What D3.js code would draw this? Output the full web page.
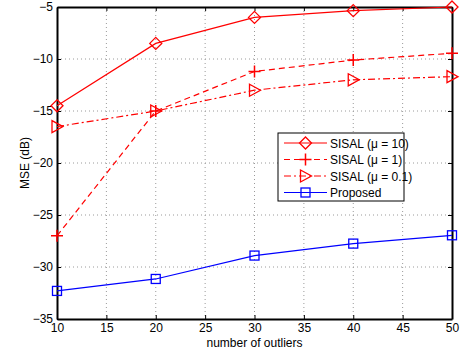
<!DOCTYPE html>
<html lang="en">
<head>
<meta charset="UTF-8">
<script src="https://d3js.org/d3.v7.min.js"></script>
<style>
  body { margin: 0; background: #fff; }
  svg { font-family: 'Liberation Sans', Arial, sans-serif; }
  .grid line { stroke: #9a9a9a; stroke-dasharray: 1,3; stroke-width: 1; }
</style>
</head>
<body>
<div id="chart"></div>
<script>
  // data
  const outliers = [10, 20, 30, 40, 50];
  const sisal10 = [-14.5, -8.5, -6.0, -5.35, -5.0];
  const sisal1 = [-27.0, -15.0, -11.2, -10.1, -9.45];
  const sisal01 = [-16.5, -15.0, -13.0, -12.0, -11.7];
  const proposed = [-32.3, -31.15, -28.9, -27.75, -26.95];
  const xTicks = [10, 15, 20, 25, 30, 35, 40, 45, 50];
  const yTicks = [-35, -30, -25, -20, -15, -10, -5];
  const legendLabels = ["SISAL (\u03bc = 10)", "SISAL (\u03bc = 1)", "SISAL (\u03bc = 0.1)", "Proposed"];

  const W = 464, H = 351;
  const margin = {top: 7, right: 12, bottom: 32, left: 57};
  const width = W - margin.left - margin.right,
        height = H - margin.top - margin.bottom;

  const svg = d3.select("#chart").append("svg")
      .attr("width", W).attr("height", H);
  const g = svg.append("g").attr("transform", `translate(${margin.left},${margin.top})`);

  const x = d3.scaleLinear().domain([10, 50]).range([0, width]);
  const y = d3.scaleLinear().domain([-35, -5]).range([height, 0]);

  // grid
  const grid = g.append("g").attr("class", "grid");
  grid.selectAll(".gx").data(xTicks.slice(1, -1)).join("line")
      .attr("x1", d => x(d)).attr("x2", d => x(d)).attr("y1", 0).attr("y2", height);
  grid.selectAll(".gy").data(yTicks.slice(1, -1)).join("line")
      .attr("class", "gy")
      .attr("y1", d => y(d)).attr("y2", d => y(d)).attr("x1", 0).attr("x2", width);

  // axes, MATLAB style: ticks inside on all four sides
  const tickLen = 4;
  const axB = g.append("g").attr("transform", `translate(0,${height})`)
      .call(d3.axisBottom(x).tickValues(xTicks).tickSize(-tickLen).tickPadding(4).tickSizeOuter(0));
  const axT = g.append("g")
      .call(d3.axisTop(x).tickValues(xTicks).tickSize(-tickLen).tickFormat("").tickSizeOuter(0));
  const axL = g.append("g")
      .call(d3.axisLeft(y).tickValues(yTicks).tickSize(-tickLen).tickPadding(4).tickSizeOuter(0)
        .tickFormat(d => d < 0 ? "\u2212" + Math.abs(d) : d));
  const axR = g.append("g").attr("transform", `translate(${width},0)`)
      .call(d3.axisRight(y).tickValues(yTicks).tickSize(-tickLen).tickFormat("").tickSizeOuter(0));
  [axB, axT, axL, axR].forEach(a => {
    a.select(".domain").attr("stroke", "#000").attr("stroke-width", 2);
    a.selectAll(".tick line").attr("stroke", "#000");
    a.selectAll("text").attr("fill", "#000").style("font-size", "12px");
  });

  const line = d3.line().x((d, i) => x(outliers[i])).y(d => y(d));

  const series = [
    {vals: sisal10, color: "#ff0000", dash: null, marker: "diamond"},
    {vals: sisal1, color: "#ff0000", dash: "6,4", marker: "plus"},
    {vals: sisal01, color: "#ff0000", dash: "7,3,2,3", marker: "triangle"},
    {vals: proposed, color: "#0000ff", dash: null, marker: "square"}
  ];

  function drawMarker(sel, type, color) {
    if (type === "diamond") {
      sel.append("path").attr("d", "M0,-6L6,0L0,6L-6,0Z")
        .attr("fill", "none").attr("stroke", color).attr("stroke-width", 1.3);
    } else if (type === "plus") {
      sel.append("path").attr("d", "M-6,0H6M0,-6V6")
        .attr("fill", "none").attr("stroke", color).attr("stroke-width", 1.5);
    } else if (type === "triangle") {
      sel.append("path").attr("d", "M-5,-6L6,0L-5,6Z")
        .attr("fill", "none").attr("stroke", color).attr("stroke-width", 1.3);
    } else {
      sel.append("rect").attr("x", -4.5).attr("y", -4.5).attr("width", 9).attr("height", 9)
        .attr("fill", "none").attr("stroke", color).attr("stroke-width", 1.3);
    }
  }

  series.forEach(s => {
    g.append("path").datum(s.vals)
      .attr("d", line)
      .attr("fill", "none")
      .attr("stroke", s.color)
      .attr("stroke-width", 1.2)
      .attr("stroke-dasharray", s.dash);
    s.vals.forEach((v, i) => {
      const m = g.append("g").attr("transform", `translate(${x(outliers[i])},${y(v)})`);
      drawMarker(m, s.marker, s.color);
    });
  });

  // legend
  const lg = svg.append("g").attr("transform", "translate(278,133)");
  lg.append("rect").attr("width", 126).attr("height", 68)
    .attr("fill", "#fff").attr("stroke", "#000").attr("stroke-width", 1);
  series.forEach((s, i) => {
    const row = lg.append("g").attr("transform", `translate(0,${10 + i * 16.5})`);
    row.append("line").attr("x1", 6).attr("x2", 49).attr("y1", 0).attr("y2", 0)
      .attr("stroke", s.color).attr("stroke-width", 1.2).attr("stroke-dasharray", s.dash);
    const m = row.append("g").attr("transform", "translate(27.5,0)");
    drawMarker(m, s.marker, s.color);
    row.append("text").attr("x", 52).attr("y", 4.5)
      .style("font-size", "12px").text(legendLabels[i]);
  });

  // axis labels
  svg.append("text")
    .attr("x", margin.left + width / 2).attr("y", 347)
    .attr("text-anchor", "middle").style("font-size", "12px")
    .text("number of outliers");
  svg.append("text")
    .attr("transform", `translate(29,${margin.top + height / 2}) rotate(-90)`)
    .attr("text-anchor", "middle").style("font-size", "12px")
    .text("MSE (dB)");
</script>
</body>
</html>
